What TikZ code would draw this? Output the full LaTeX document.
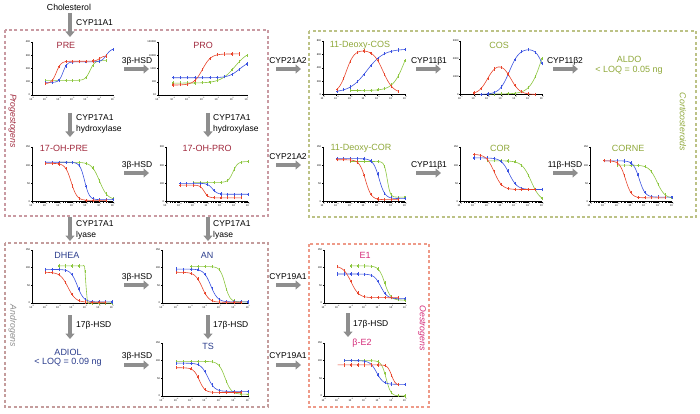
\documentclass[tikz,border=0pt]{standalone}
\usepackage{fontspec}
\setmainfont{Liberation Sans}
\usetikzlibrary{arrows.meta}
\definecolor{cred}{HTML}{E8452C}
\definecolor{cblue}{HTML}{3A52E0}
\definecolor{cgreen}{HTML}{8CC63F}
\definecolor{progred}{HTML}{A0283C}
\definecolor{cortgreen}{HTML}{8FA83A}
\definecolor{andblue}{HTML}{2A3C8C}
\definecolor{oesmag}{HTML}{D42A78}
\definecolor{progbox}{HTML}{C99AA2}
\definecolor{cortbox}{HTML}{BCC286}
\definecolor{andbox}{HTML}{C49C9C}
\definecolor{oesbox}{HTML}{EE9A88}
\definecolor{arrgray}{HTML}{8E8E8E}
\definecolor{andgray}{HTML}{8C8C8C}
\newcommand\axes[1]{%
  \draw[axl] (0,1) -- (0,0) -- (6,0);
  \foreach \i in {0,...,6}{%
    \draw[axl] (\i,0) -- ++(0pt,-1.4pt);
    \pgfmathtruncatemacro\ee{\i-5}%
    \node[tl, anchor=north] at ([yshift=-1.4pt]\i,0) {10\textsuperscript{\ee}};}
  \foreach \d in {0,...,5}{\foreach \k in {2,...,9}{%
    \draw[axl, line width=0.25pt] ({\d+log10(\k)},0) -- ++(0pt,-0.8pt);}}
  \foreach \fr/\lb in {#1}{%
    \draw[axl] (0,\fr) -- ++(-1.4pt,0pt);
    \node[tl, anchor=east] at ([xshift=-1.4pt]0,\fr) {\lb};}
}
\newcommand\crv[4]{%
  \draw[#1, line width=0.6pt] plot[smooth, domain=#2, samples=36] (\x,{#3});
  \foreach \x in {#4}{%
    \draw[#1, line width=0.3pt] (\x,{#3}) +(0pt,-1.6pt) -- +(0pt,1.6pt);
    \fill[#1] (\x,{#3}) +(-0.65pt,-0.65pt) rectangle +(0.65pt,0.65pt);}%
}
\begin{document}
\begin{tikzpicture}[x=1pt,y=-1pt,
  declare function={sg(\xa,\xb,\xc)=1/(1+pow(10,max(-4,min(4,\xc*(\xa-\xb)))));},
  lab/.style={font=\fontsize{8.5}{10}\selectfont, inner sep=0pt},
  ttl/.style={font=\fontsize{9}{10.5}\selectfont, inner sep=0pt},
  grp/.style={font=\fontsize{8.7}{10}\selectfont\itshape, rotate=-90, inner sep=0pt},
  fat/.style={draw=arrgray, line width=3.6pt, -{Triangle[width=9pt,length=5.5pt]}},
  grpbox/.style={line width=1.1pt, dash pattern=on 3pt off 2.4pt},
  axl/.style={line width=0.45pt, draw=black},
  tl/.style={font=\fontsize{2.6}{3}\selectfont, inner sep=0.3pt},
]
\useasboundingbox (0,0) rectangle (700,414);
% group frames
\draw[grpbox, draw=progbox] (5,30) rectangle (268,216);
\draw[grpbox, draw=cortbox] (309,31) rectangle (696,217);
\draw[grpbox, draw=andbox] (5,243) rectangle (268,407);
\draw[grpbox, draw=oesbox] (309,244) rectangle (429,407);
\node[grp, text=progred] (gprog) at (12.5,121) {Progestogens};
\node[grp, text=andgray] (gand) at (12.5,326) {Androgens};
\node[grp, text=oesmag] (goes) at (422,328) {Oestrogens};
\node[grp, text=cortgreen] (gcort) at (683,122) {Corticosteroids};
% cholesterol
\node[lab, font=\fontsize{8.7}{10}\selectfont] (chol) at (69,7) {Cholesterol};
\coordinate (c1a) at (70,13); \coordinate (c1b) at (70,37);
\draw[fat] (c1a) -- (c1b);
\node[lab, anchor=west] (l1) at (76,23) {CYP11A1};
% enzyme arrows
\coordinate (a1) at (124,69); \coordinate (b1) at (149,69); \draw[fat] (a1) -- (b1);
\node[lab] (l2) at (137,61) {3β-HSD};
\coordinate (a2) at (276,69); \coordinate (b2) at (301,69); \draw[fat] (a2) -- (b2);
\node[lab] (l3) at (288,61) {CYP21A2};
\coordinate (a3) at (416,69); \coordinate (b3) at (441,69); \draw[fat] (a3) -- (b3);
\node[lab] (l4) at (429,61) {CYP11β1};
\coordinate (a4) at (553,69); \coordinate (b4) at (578,69); \draw[fat] (a4) -- (b4);
\node[lab] (l5) at (565,61) {CYP11β2};
\coordinate (a5) at (70,113); \coordinate (b5) at (70,137); \draw[fat] (a5) -- (b5);
\node[lab, anchor=west] (l6) at (76,118) {CYP17A1};
\node[lab, anchor=west] (l7) at (76,129) {hydroxylase};
\coordinate (a6) at (208,113); \coordinate (b6) at (208,137); \draw[fat] (a6) -- (b6);
\node[lab, anchor=west] (l8) at (213,118) {CYP17A1};
\node[lab, anchor=west] (l9) at (213,129) {hydroxylase};
\coordinate (a7) at (124,173); \coordinate (b7) at (149,173); \draw[fat] (a7) -- (b7);
\node[lab] (l10) at (137,165) {3β-HSD};
\coordinate (a8) at (276,165); \coordinate (b8) at (301,165); \draw[fat] (a8) -- (b8);
\node[lab] (l11) at (288,157) {CYP21A2};
\coordinate (a9) at (416,173); \coordinate (b9) at (441,173); \draw[fat] (a9) -- (b9);
\node[lab] (l12) at (429,165) {CYP11β1};
\coordinate (a10) at (553,173); \coordinate (b10) at (578,173); \draw[fat] (a10) -- (b10);
\node[lab] (l13) at (565,165) {11β-HSD};
\coordinate (a11) at (70,217); \coordinate (b11) at (70,241); \draw[fat] (a11) -- (b11);
\node[lab, anchor=west] (l14) at (76,224) {CYP17A1};
\node[lab, anchor=west] (l15) at (76,235) {lyase};
\coordinate (a12) at (208,217); \coordinate (b12) at (208,241); \draw[fat] (a12) -- (b12);
\node[lab, anchor=west] (l16) at (213,224) {CYP17A1};
\node[lab, anchor=west] (l17) at (213,235) {lyase};
\coordinate (a13) at (124,285); \coordinate (b13) at (149,285); \draw[fat] (a13) -- (b13);
\node[lab] (l18) at (137,277) {3β-HSD};
\coordinate (a14) at (276,285); \coordinate (b14) at (301,285); \draw[fat] (a14) -- (b14);
\node[lab] (l19) at (288,277) {CYP19A1};
\coordinate (a15) at (70,315); \coordinate (b15) at (70,339); \draw[fat] (a15) -- (b15);
\node[lab, anchor=west] (l20) at (76,325) {17β-HSD};
\coordinate (a16) at (208,315); \coordinate (b16) at (208,339); \draw[fat] (a16) -- (b16);
\node[lab, anchor=west] (l21) at (213,325) {17β-HSD};
\coordinate (a17) at (348,313); \coordinate (b17) at (348,337); \draw[fat] (a17) -- (b17);
\node[lab, anchor=west] (l22) at (353,324) {17β-HSD};
\coordinate (a18) at (124,365); \coordinate (b18) at (149,365); \draw[fat] (a18) -- (b18);
\node[lab] (l23) at (137,356) {3β-HSD};
\coordinate (a19) at (276,365); \coordinate (b19) at (301,365); \draw[fat] (a19) -- (b19);
\node[lab] (l24) at (288,356) {CYP19A1};
% non-plotted results
\node[ttl, text=cortgreen] (aldo) at (629,59) {ALDO};
\node[ttl, text=cortgreen] (aldoq) at (629,70) {< LOQ = 0.05 ng};
\node[ttl, text=andblue] (adiol) at (68,352) {ADIOL};
\node[ttl, text=andblue] (adiolq) at (68,362) {< LOQ = 0.09 ng};
% titles
\node[ttl, text=progred] (tpre) at (66,45) {PRE};
\node[ttl, text=progred] (tpro) at (203,45) {PRO};
\node[ttl, text=cortgreen] (tdcos) at (360,45) {11-Deoxy-COS};
\node[ttl, text=cortgreen] (tcos) at (499,45) {COS};
\node[ttl, text=progred] (tohpre) at (64,148) {17-OH-PRE};
\node[ttl, text=progred] (tohpro) at (207,148) {17-OH-PRO};
\node[ttl, text=cortgreen] (tdcor) at (361,148) {11-Deoxy-COR};
\node[ttl, text=cortgreen] (tcor) at (500,148) {COR};
\node[ttl, text=cortgreen] (tcorne) at (628,148) {CORNE};
\node[ttl, text=andblue] (tdhea) at (67,255) {DHEA};
\node[ttl, text=andblue] (tan) at (207,255) {AN};
\node[ttl, text=oesmag] (te1) at (365,255) {E1};
\node[ttl, text=andblue] (tts) at (208,346) {TS};
\node[ttl, text=oesmag] (te2) at (362,343) {β-E2};
% PRE
\begin{scope}[shift={(32,95)},x=13.5pt,y={(0pt,53pt)}]
\axes{0/0,0.25/100,0.5/200,0.75/300,1/400}
\crv{cgreen}{1:5.5}{(110+150*sg(\x,4.3,-2.5))/400}{1,1.5,...,5.5}
\crv{cblue}{1:6}{(95+155*sg(\x,2.3,-3)+100*sg(\x,5.5,-2.5))/400}{1,1.5,...,6}
\crv{cred}{1:5.5}{(85+170*sg(\x,1.8,-2.5)+40*sg(\x,5,-3))/400}{1,1.5,...,5.5}
\end{scope}
% PRO
\begin{scope}[shift={(158,95)},x=14.8pt,y={(0pt,53pt)}]
\axes{0/10,0.25/100,0.5/1000,0.75/10000,1/100000}
\crv{cgreen}{1:6}{(0.9+2.5*sg(\x,5.2,-0.9))/4}{1,1.5,...,6}
\crv{cblue}{1:6}{(1.3+1.3*sg(\x,5.5,-1.2))/4}{1,1.5,...,6}
\crv{cred}{1:5.5}{(0.75+2.35*sg(\x,3,-1.5))/4}{1,1.5,...,5.5}
\end{scope}
% 11-Deoxy-COS
\begin{scope}[shift={(323,94.5)},x=13.67pt,y={(0pt,53.5pt)}]
\axes{0/0,0.25/200,0.5/400,0.75/600,1/800}
\crv{cgreen}{2:6}{(60+900*sg(\x,6,-1))/800}{2,2.5,...,6}
\crv{cblue}{1:6}{(30+650*sg(\x,3.2,-0.7))/800}{1,1.5,...,6}
\crv{cred}{1:5.5}{(20+650*sg(\x,1.7,-1.5)*sg(\x,4.4,1.2))/800}{1,1.5,...,5.5}
\end{scope}
% COS
\begin{scope}[shift={(460.5,94.5)},x=13.58pt,y={(0pt,53.5pt)}]
\axes{0/0,0.3333/1000,0.6667/2000,1/3000}
\crv{cgreen}{2:6}{(30+4000*sg(\x,6,-1))/3000}{2,2.5,...,6}
\crv{cblue}{1.5:6}{(2600*sg(\x,3.6,-1.2)*sg(\x,6.2,1.5))/3000}{1.5,2,...,6}
\crv{cred}{1:5.5}{(1800*sg(\x,2,-1.3)*sg(\x,3.7,1.3))/3000}{1,1.5,...,5.5}
\end{scope}
% 17-OH-PRE
\begin{scope}[shift={(32,201.5)},x=13.5pt,y={(0pt,54.5pt)}]
\axes{0/0,0.3333/50,0.6667/100,1/150}
\crv{cgreen}{2:6}{(5+103*sg(\x,5,1.5))/150}{2,2.5,...,6}
\crv{cblue}{1:6}{(5+103*sg(\x,3.9,2.5))/150}{1,1.5,...,6}
\crv{cred}{1:5.5}{(3+102*sg(\x,2.9,2))/150}{1,1.5,...,5.5}
\end{scope}
% 17-OH-PRO
\begin{scope}[shift={(166,201.5)},x=13.67pt,y={(0pt,54.5pt)}]
\axes{0/0,0.3333/100,0.6667/200,1/300}
\crv{cgreen}{2:6}{(105+115*sg(\x,4.9,-2.5))/300}{2,2.5,...,6}
\crv{cblue}{1:6}{(40+60*sg(\x,3.4,2.5))/300}{1,1.5,...,6}
\crv{cred}{1:5.5}{(20+70*sg(\x,2.8,3))/300}{1,1.5,...,5.5}
\end{scope}
% 11-Deoxy-COR
\begin{scope}[shift={(323,201.5)},x=13.67pt,y={(0pt,54.5pt)}]
\axes{0/0,0.3333/50,0.6667/100,1/150}
\crv{cgreen}{2:6}{(12+98*sg(\x,4.7,4))/150}{2,2.5,...,6}
\crv{cblue}{1:6}{(8+110*sg(\x,4.1,2))/150}{1,1.5,...,6}
\crv{cred}{1:5.5}{(5+110*sg(\x,3.1,2))/150}{1,1.5,...,5.5}
\end{scope}
% COR
\begin{scope}[shift={(460,201.5)},x=13.67pt,y={(0pt,54.5pt)}]
\axes{0/0,0.3333/50,0.6667/100,1/150}
\crv{cgreen}{2:6}{(112*sg(\x,5.2,1.3))/150}{2,2.5,...,6}
\crv{cblue}{1:6}{(33+87*sg(\x,3.6,1.5))/150}{1,1.5,...,6}
\crv{cred}{1:5.5}{(33+97*sg(\x,2.5,1.5))/150}{1,1.5,...,5.5}
\end{scope}
% CORNE
\begin{scope}[shift={(590,201.5)},x=13.67pt,y={(0pt,54.5pt)}]
\axes{0/0,0.3333/50,0.6667/100,1/150}
\crv{cgreen}{2:6}{(8+92*sg(\x,4.9,1.5))/150}{2,2.5,...,6}
\crv{cblue}{1:6}{(12+100*sg(\x,3.6,2))/150}{1,1.5,...,6}
\crv{cred}{1:5.5}{(10+102*sg(\x,2.6,2))/150}{1,1.5,...,5.5}
\end{scope}
% DHEA
\begin{scope}[shift={(32,303)},x=13.33pt,y={(0pt,53pt)}]
\axes{0/0,0.3333/50,0.6667/100,1/150}
\crv{cgreen}{2:6}{(105*sg(\x,4.05,15))/150}{2,2.5,...,6}
\crv{cblue}{1:6}{(3+92*sg(\x,3.4,1.8))/150}{1,1.5,...,6}
\crv{cred}{1:5.5}{(2+85*sg(\x,2.7,1.5))/150}{1,1.5,...,5.5}
\end{scope}
% AN
\begin{scope}[shift={(162,303)},x=14.33pt,y={(0pt,53pt)}]
\axes{0/0,0.3333/50,0.6667/100,1/150}
\crv{cgreen}{2:6}{(3+100*sg(\x,4.4,2.5))/150}{2,2.5,...,6}
\crv{cblue}{1:6}{(3+93*sg(\x,3.4,1.8))/150}{1,1.5,...,6}
\crv{cred}{1:5.5}{(2+85*sg(\x,2.8,1.8))/150}{1,1.5,...,5.5}
\end{scope}
% E1
\begin{scope}[shift={(324,303)},x=13.5pt,y={(0pt,53pt)}]
\axes{0/0,0.3333/50,0.6667/100,1/150}
\crv{cgreen}{2:6}{(8+97*sg(\x,4.5,2))/150}{2,2.5,...,6}
\crv{cblue}{1:6}{(12+70*sg(\x,4.2,1.8))/150}{1,1.5,...,6}
\crv{cred}{1:5.5}{(15+90*sg(\x,2,1.5))/150}{1,1.5,...,5.5}
\end{scope}
% TS
\begin{scope}[shift={(162,396)},x=14.33pt,y={(0pt,53pt)}]
\axes{0/0,0.3333/50,0.6667/100,1/150}
\crv{cgreen}{1:6}{(5+93*sg(\x,4.4,2))/150}{1,1.5,...,6}
\crv{cblue}{1:6}{(13+80*sg(\x,3.2,1.8))/150}{1,1.5,...,6}
\crv{cred}{1:5.5}{(10+70*sg(\x,2.6,2.2))/150}{1,1.5,...,5.5}
\end{scope}
% beta-E2
\begin{scope}[shift={(324,396)},x=13.5pt,y={(0pt,53pt)}]
\axes{0/0,0.3333/50,0.6667/100,1/150}
\crv{cgreen}{1.5:6}{(100*sg(\x,4.6,2.5))/150}{1.5,2,...,6}
\crv{cblue}{1.5:6}{(33+67*sg(\x,3.9,1.8))/150}{1.5,2,...,6}
\crv{cred}{1:5.5}{(30+58*sg(\x,5,3))/150}{1.5,2,...,5.5}
\end{scope}
\end{tikzpicture}
\end{document}
